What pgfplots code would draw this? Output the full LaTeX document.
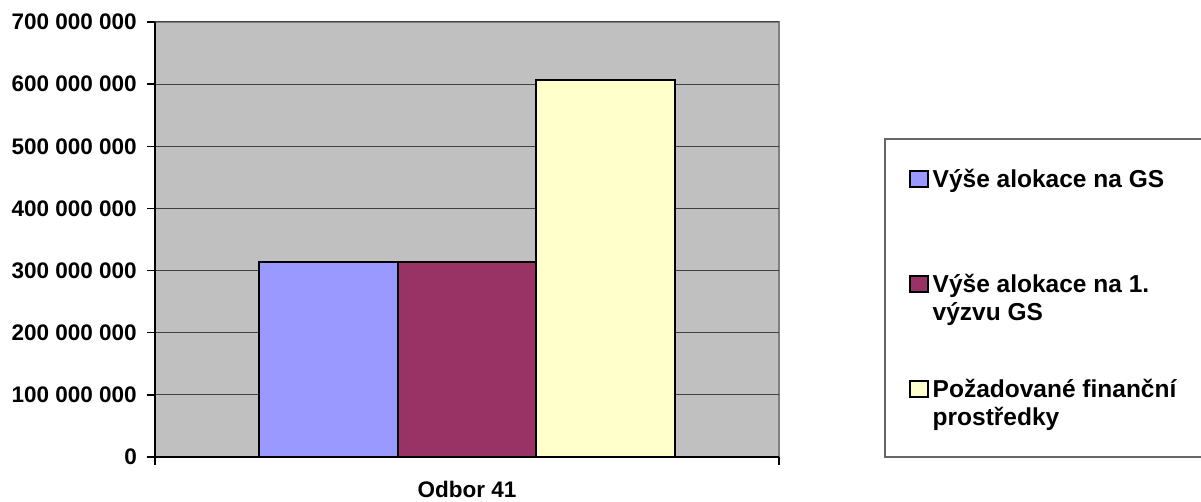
\documentclass[border=0pt]{standalone}
\usepackage{pgfplots}
\pgfplotsset{compat=1.18}
\usepackage{fontspec}
\setmainfont{Liberation Sans}

\definecolor{plotbg}{HTML}{C0C0C0}
\definecolor{frame}{HTML}{808080}
\definecolor{gridc}{HTML}{404040}
\definecolor{cgs}{HTML}{9999FF}
\definecolor{cvyzva}{HTML}{993366}
\definecolor{cpoz}{HTML}{FFFFCC}

\newcommand{\lf}{\fontsize{22.5}{27.5}\selectfont\bfseries}
\newcommand{\legf}{\fontsize{24.5}{28}\selectfont\bfseries}
% each legend entry takes the same 105pt of height, first line on the row's baseline
\newcommand{\entry}[1]{\parbox[t][105pt][t]{280pt}{\raggedright #1}}
\pgfplotsset{sqlegend/.style={legend image code/.code={\draw[##1] (0pt,0pt) rectangle (17.5pt,16.5pt);}}}

\begin{document}
\begin{tikzpicture}
\useasboundingbox (0pt,0pt) rectangle (1201pt,502pt);
% legend frame (right edge runs off the page like in the original)
\draw[draw=frame!80!black, line width=1.2pt] (885pt,45pt) rectangle (1210pt,363pt);
\begin{axis}[
    at={(155pt,45pt)}, anchor=south west,
    width=624pt, height=435pt, scale only axis,
    xmin=-2.25, xmax=2.25,
    ymin=0, ymax=700,
    axis x line*=bottom, axis y line*=left,
    axis line style={-, black, line width=1.5pt},
    axis background/.style={fill=plotbg, draw=frame, line width=1.5pt},
    ymajorgrids, grid style={gridc, line width=1pt},
    ytick={0,100,...,700},
    yticklabels={0,100 000 000,200 000 000,300 000 000,400 000 000,500 000 000,600 000 000,700 000 000},
    xtick={-2.25,2.25}, xticklabels={},
    tick align=outside, major tick length=8pt,
    tick style={black, line width=1.5pt},
    ticklabel style={font=\lf},
    yticklabel style={inner sep=0pt, xshift=-10pt},
    xlabel={Odbor 41},
    every axis x label/.style={at={(axis description cs:0.5,0)}, anchor=base, yshift=-41pt, font=\lf},
    legend style={at={(axis description cs:1.2088,0.6628)}, anchor=north west,
        draw=none, fill=none, inner sep=0pt, row sep=0pt, column sep=4pt,
        font=\legf, cells={anchor=base west},
        nodes={inner sep=0pt, text height=, text depth=}},
]
\addplot[ybar, bar width=1, bar shift=-1, fill=cgs, draw=black, line width=1.7pt, sqlegend]
    coordinates {(0,313.3)};
\addlegendentry{\entry{Výše alokace na GS}}
\addplot[ybar, bar width=1, bar shift=0, fill=cvyzva, draw=black, line width=1.7pt, sqlegend]
    coordinates {(0,313.3)};
\addlegendentry{\entry{Výše alokace na 1.\\ výzvu GS}}
\addplot[ybar, bar width=1, bar shift=1, fill=cpoz, draw=black, line width=1.7pt, sqlegend]
    coordinates {(0,607.2)};
\addlegendentry{\entry{Požadované finanční\\ prostředky}}
\end{axis}
\end{tikzpicture}
\end{document}
